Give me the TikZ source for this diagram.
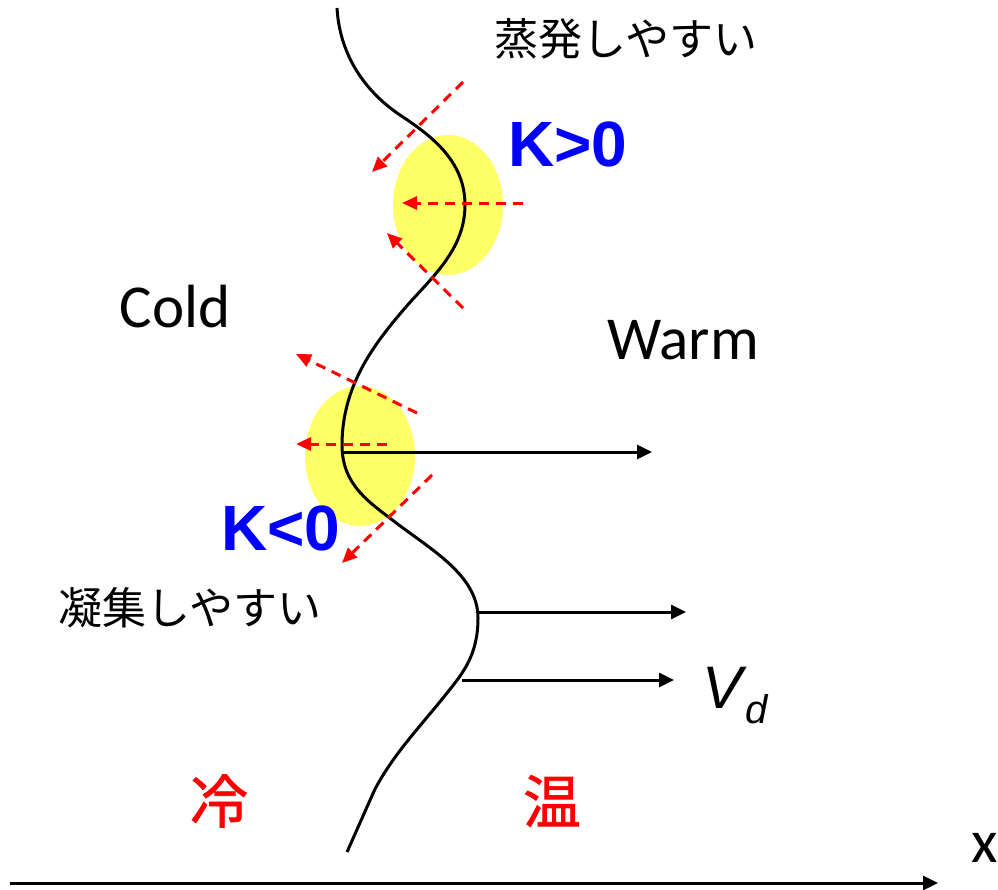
\documentclass[tikz,border=0pt]{standalone}
\usepackage{fontspec}
\setmainfont{Carlito}
\newfontfamily\arial{Liberation Sans}
\newfontfamily\jp{Noto Sans CJK JP}
\newfontfamily\jpb{Noto Sans CJK JP}[FakeBold=1.2]
\usetikzlibrary{arrows.meta,shapes.geometric}
\definecolor{hilite}{HTML}{FFFF66}

\begin{document}
\begin{tikzpicture}[x=1pt, y=-1pt, inner sep=0pt,
  blob/.style={ellipse, fill=hilite, minimum width=110pt, minimum height=140pt},
  lab/.style={font=\fontsize{61}{61}\selectfont},
  jlab/.style={font=\jp\fontsize{44}{44}\selectfont},
  kval/.style={text=blue, font=\arial\bfseries\fontsize{64}{64}\selectfont},
  temp/.style={text=red, font=\jpb\fontsize{58}{58}\selectfont},
  vlab/.style={font=\arial\itshape\fontsize{60}{60}\selectfont},
  flux/.style={red, line width=3pt, dash pattern=on 10pt off 7pt, -{Triangle[length=15pt, width=13pt]}},
  drift/.style={line width=3pt, -{Triangle[length=15pt, width=14pt]}}]
\useasboundingbox (0,0) rectangle (998,889);
\node[blob] (up) at (448,205) {};
\node[blob] (lo) at (360,456) {};
\draw[line width=3pt] (337,8) .. controls (340,60) and (370,95) .. (400,115)
  .. controls (430,135) and (465,160) .. (465,205)
  .. controls (465,250) and (431,278) .. (405,308)
  .. controls (375,343) and (342,385) .. (342,445)
  .. controls (342,485) and (369,502) .. (395,522)
  .. controls (430,549) and (478,575) .. (478,618)
  .. controls (478,655) and (463,673) .. (447,693)
  .. controls (420,727) and (395,752) .. (375,789) -- (347,852);
\coordinate (f1) at (463,82);  \coordinate (t1) at (372,172);
\coordinate (f2) at (523,203); \coordinate (t2) at (402,203);
\coordinate (f3) at (463,308); \coordinate (t3) at (387,233);
\coordinate (f4) at (417,413); \coordinate (t4) at (296,354);
\coordinate (f5) at (387,444); \coordinate (t5) at (296,444);
\coordinate (f6) at (432,475); \coordinate (t6) at (342,563);
\foreach \a/\b in {f1/t1, f2/t2, f3/t3, f4/t4, f5/t5, f6/t6} \draw[flux] (\a) -- (\b);
\coordinate (c1) at (342,452); \coordinate (e1) at (652,452);
\coordinate (c2) at (479,612); \coordinate (e2) at (686,612);
\coordinate (c3) at (462,680); \coordinate (e3) at (674,680);
\coordinate (x0) at (10,883);  \coordinate (x1) at (938,883);
\foreach \a/\b in {c1/e1, c2/e2, c3/e3, x0/x1} \draw[drift] (\a) -- (\b);
\node[jlab] (evap) at (626,39) {蒸発しやすい};
\node[kval] (kpos) at (568,144) {K>0};
\node[lab] (cold) at (175,307) {Cold};
\node[lab] (warm) at (683,340) {Warm};
\node[kval] (kneg) at (281,528) {K<0};
\node[jlab] (cond) at (190,608) {凝集しやすい};
\node[vlab, anchor=base west] (vd) at (702,708) {V\kern3pt\raisebox{-15pt}{\fontsize{40}{40}\selectfont d}};
\node[temp] (cool) at (219,801) {冷};
\node[temp] (hot) at (552,801) {温};
\node[lab] (xlab) at (985,848) {x};
\end{tikzpicture}
\end{document}
